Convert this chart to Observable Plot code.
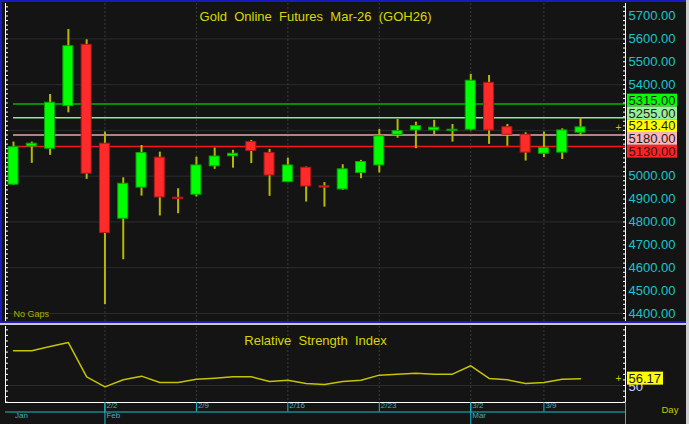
<!DOCTYPE html>
<html><head><meta charset="utf-8">
<script src="https://cdn.jsdelivr.net/npm/d3@7"></script>
<script src="https://cdn.jsdelivr.net/npm/@observablehq/plot@0.6"></script>
<style>
html,body{margin:0;padding:0;background:#141414;}
#wrap{position:relative;width:689px;height:424px;background:#141414;overflow:hidden;font-family:"Liberation Sans",Arial,sans-serif;}
#main,#rsi{position:absolute;left:0;}
#main{top:0;} #rsi{top:322px;}
.bar{position:absolute;}
svg text{white-space:pre;}
</style></head>
<body>
<div id="wrap">
  <div id="main"></div>
  <div id="rsi"></div>
  <div class="bar" style="left:0;top:0;width:686px;height:2px;background:#1a1ac0"></div>
  <div class="bar" style="left:0;top:0;width:2px;height:322px;background:#1a1ac0"></div>
  <div class="bar" style="left:0;top:321px;width:686px;height:2px;background:#1a1ac0"></div>
  <div class="bar" style="left:0;top:323px;width:686px;height:2px;background:#c8c8c8"></div>
  <div class="bar" style="left:686px;top:0;width:3px;height:424px;background:#cfcfcf"></div>
</div>
<script>
// ---------- data ----------
const opens  = [4963,5130,5120,5306,5574,5142,4814,4950,5081,4906,4919,5043,5087,5149,5101,4974,5037,4956,4942,5014,5047,5181,5200,5200,5198,5203,5408,5214,5181,5098,5103,5190];
const highs  = [5149,5149,5357,5641,5596,5193,4993,5134,5105,4945,5083,5123,5113,5156,5117,5079,5040,4972,5050,5069,5204,5248,5236,5244,5226,5445,5440,5226,5190,5193,5207,5254];
const lows   = [4960,5056,5091,5277,4986,4439,4635,4913,4826,4836,4909,5030,5035,5055,4912,4972,4887,4865,4938,4989,5014,5166,5120,5181,5149,5198,5139,5131,5066,5081,5073,5174];
const closes = [5127,5142,5321,5568,5011,4752,4967,5101,4907,4900,5047,5086,5098,5110,5003,5047,4955,4950,5030,5062,5174,5197,5219,5212,5203,5417,5200,5181,5103,5123,5200,5213.4];
const rsiValues = [81.2,81.2,85.0,88.6,57.8,48.8,55.1,58.4,52.7,52.7,55.7,56.6,57.8,57.8,53.6,54.8,51.8,50.9,53.6,54.8,59.3,60.2,61.1,60.2,60.2,67.7,56.3,55.1,51.8,52.7,55.7,56.17];

const levelValues = [5315, 5255, 5180, 5130];
const levelColors = ["#00b400", "#90e890", "#e0a8a8", "#f01818"];
const labelValues = [5315, 5255, 5213.4, 5180, 5130];
const labelColors = ["#00ff00", "#98f098", "#ffff00", "#ffb4b8", "#ff2222"];

const priceTicks = [4400,4500,4600,4700,4800,4900,5000,5100,5200,5300,5400,5500,5600,5700];
const gridPrices = [4400,4600,4800,5000,5200,5400,5600];
const weekTickIdx = [5,10,15,20,25,29];
const weekTickLabels = ["2/2","2/9","2/16","2/23","3/2","3/9"];
const monthTickIdx = [0,5,25];
const monthTickLabels = ["Jan","Feb","Mar"];
const rsiTicks = [35,40,45,50,55,60,65,70,75,80,85,90,95,100];
const title = "Gold  Online  Futures  Mar-26  (GOH26)";
const rsiTitle = "Relative  Strength  Index";

// ---------- build ----------
const candles = opens.map((o,i)=>({i, open:o, high:highs[i], low:lows[i], close:closes[i]}));
const levels = levelValues.map((v,i)=>({value:v, color:levelColors[i]}));
const rsiData = rsiValues.map((v,i)=>({i, v}));
const weekTicks = weekTickIdx.map((i,k)=>({i, label:weekTickLabels[k]}));
const monthTicks = monthTickIdx.map((i,k)=>({i, label:monthTickLabels[k]}));

const xMin = -0.437, xMax = 33.46;
const yDomain = [4365, 5754.6];
const H = 321, mTop = 3, mBottom = 0;
const pricePerPx = (yDomain[1]-yDomain[0])/(H-mTop-mBottom);
const boxH = 12.8;
const meanLabel = d3.mean(labelValues);
const boxes = labelValues.map((v,i)=>({value:v, bg:labelColors[i],
  center: meanLabel + ((labelValues.length-1)/2 - i)*boxH*pricePerPx}));
const stackHi = d3.max(boxes, d=>d.center) + boxH/2*pricePerPx;
const stackLo = d3.min(boxes, d=>d.center) - boxH/2*pricePerPx;
const shownTicks = priceTicks.filter(t => t > stackHi + 4*pricePerPx || t < stackLo - 4*pricePerPx);
const minorTicks = d3.range(4380, 5760, 20);
const lastClose = closes[closes.length-1];
const lastRsi = rsiValues[rsiValues.length-1];

const cyan = "#18c6cc";
const axisCyan = "#14c0c8";
const font = "'Liberation Sans', Arial, sans-serif";
const styleObj = {background:"transparent", color:"white", fontFamily:font, fontSize:"13px", overflow:"visible"};

const main = Plot.plot({
  width: 689, height: H, marginTop: mTop, marginBottom: mBottom, marginLeft: 5, marginRight: 64,
  x: {domain: [xMin, xMax], axis: null, label: null},
  y: {domain: yDomain, axis: null, label: null},
  color: {type: "identity"},
  style: styleObj,
  marks: [
    Plot.ruleY(gridPrices, {stroke: "#2c2c2c"}),
    Plot.ruleX(weekTickIdx, {stroke: "#3a3a3a", strokeDasharray: "2,2"}),
    Plot.ruleY(levels, {y: "value", x1: 0, x2: xMax, stroke: "color", strokeWidth: 1.5}),
    Plot.ruleX(candles, {x: "i", y1: "low", y2: "high", stroke: "#b8b800", strokeWidth: 2}),
    Plot.rect(candles, {x1: "i", x2: "i", y1: "open", y2: "close", insetLeft: -5, insetRight: -5,
      fill: d => d.close >= d.open ? "#00ff00" : "#ff2a2a",
      stroke: d => d.close >= d.open ? "#00a800" : "#b01818", strokeWidth: 1}),
    Plot.axisY(minorTicks, {anchor: "left", tickSize: 3, dx: 3, tickFormat: () => "", label: null, color: "white"}),
    Plot.axisY(minorTicks, {anchor: "right", tickSize: 3, dx: -3, tickFormat: () => "", label: null, color: "white"}),
    Plot.ruleX([xMin, xMax], {stroke: "white"}),
    Plot.axisY(shownTicks, {anchor: "right", tickSize: 0, tickPadding: 3, tickFormat: d => d.toFixed(2), label: null, color: cyan, fontSize: 13}),
    Plot.rect(boxes, {x1: xMax, x2: xMax, y1: "center", y2: "center", insetLeft: 2, insetRight: -52,
      insetTop: -boxH/2, insetBottom: -boxH/2, fill: "bg"}),
    Plot.text(boxes, {x: xMax, y: "center", text: d => d.value.toFixed(2), dx: 3, textAnchor: "start", fill: "#1c1c1c", fontSize: 13}),
    Plot.text([lastClose], {x: xMax, y: d => d, text: () => "+", dx: -7, fill: "#c8c800", fontSize: 10}),
    Plot.text([title], {frameAnchor: "top", dy: 8, fill: "#d8d800", fontSize: 13}),
    Plot.text(["No Gaps"], {frameAnchor: "bottom-left", dx: 8, dy: -5, textAnchor: "start", fill: "#b0b000", fontSize: 9})
  ]
});
document.getElementById("main").appendChild(main);

const rsiDomain = [34.73, 103];
const rsiPlot = Plot.plot({
  width: 689, height: 102, marginTop: 4, marginBottom: 22, marginLeft: 5, marginRight: 64,
  x: {domain: [xMin, xMax], axis: null, label: null},
  y: {domain: rsiDomain, axis: null, label: null},
  color: {type: "identity"},
  style: styleObj,
  marks: [
    Plot.ruleY([50], {stroke: "#2c2c2c"}),
    Plot.ruleX(weekTickIdx, {stroke: "#3a3a3a", strokeDasharray: "2,2"}),
    Plot.line(rsiData, {x: "i", y: "v", stroke: "#c4c400", strokeWidth: 1.5}),
    Plot.text([rsiTitle], {frameAnchor: "top", dy: 9, fill: "#d8d800", fontSize: 13}),
    Plot.axisY(rsiTicks, {anchor: "left", tickSize: 3, dx: 3, tickFormat: () => "", label: null, color: "white"}),
    Plot.axisY(rsiTicks, {anchor: "right", tickSize: 3, dx: -3, tickFormat: () => "", label: null, color: "white"}),
    Plot.ruleX([xMin, xMax], {stroke: "white"}),
    Plot.ruleY([rsiDomain[0]], {stroke: "white"}),
    Plot.ruleY([rsiDomain[0]], {dy: 9.5, stroke: axisCyan}),
    Plot.axisX(weekTickIdx, {anchor: "bottom", tickSize: 9.5, tickFormat: () => "", label: null, color: axisCyan}),
    Plot.axisX(monthTickIdx.filter(i => i > 0).concat([xMax]), {anchor: "bottom", tickSize: 22, tickFormat: () => "", label: null, color: axisCyan}),
    Plot.text(weekTicks, {x: "i", text: "label", frameAnchor: "bottom", dy: 5.7, dx: 1.5, textAnchor: "start", fill: "#38b4bc", fontSize: 8}),
    Plot.text(monthTicks, {x: "i", text: "label", frameAnchor: "bottom", dy: 15.3, dx: 1.5, textAnchor: "start", fill: "#38b4bc", fontSize: 8}),
    Plot.text(["Day"], {frameAnchor: "bottom-right", dx: 36, dy: 10.7, textAnchor: "start", fill: "#c8c800", fontSize: 9.5}),
    Plot.text([50], {y: d => d, frameAnchor: "right", dx: 3, dy: 1.5, textAnchor: "start", fill: "#d4d4fa", fontSize: 13}),
    Plot.rect([lastRsi], {x1: xMax, x2: xMax, y1: d => d, y2: d => d, insetLeft: 2, insetRight: -38,
      insetTop: -6.5, insetBottom: -6.5, fill: "#ffff00"}),
    Plot.text([lastRsi], {x: xMax, y: d => d, text: d => d.toFixed(2), dx: 3, textAnchor: "start", fill: "#1c1c1c", fontSize: 13}),
    Plot.text([lastRsi], {x: xMax, y: d => d, text: () => "+", dx: -7, fill: "#c8c800", fontSize: 10})
  ]
});
document.getElementById("rsi").appendChild(rsiPlot);
</script>
</body></html>
